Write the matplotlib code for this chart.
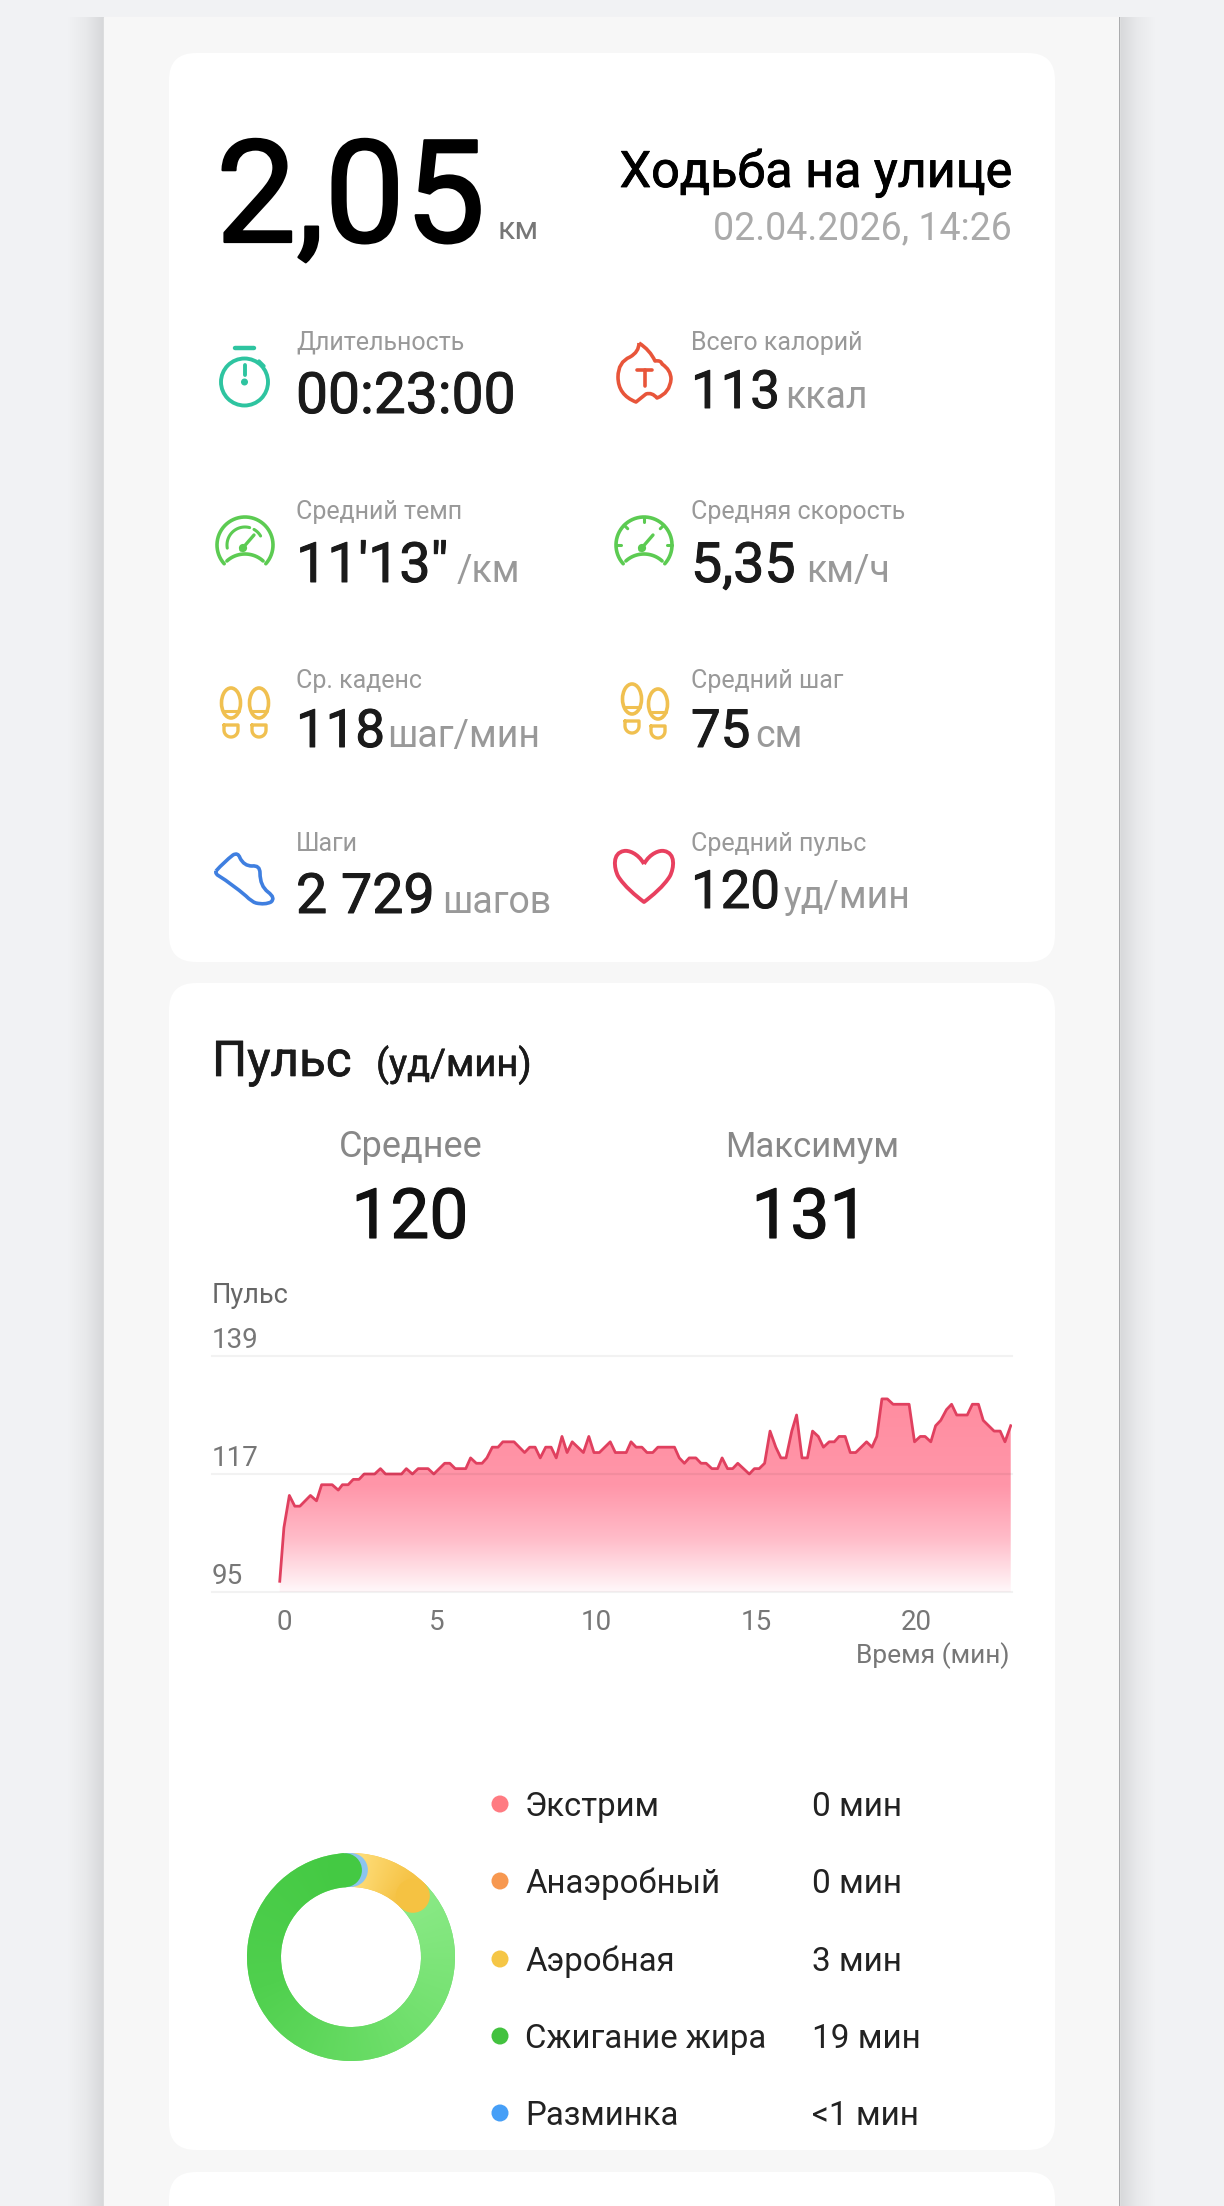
import numpy as np
import matplotlib
matplotlib.use('Agg')
import matplotlib.pyplot as plt
import matplotlib.patheffects as pe
from matplotlib.colors import LinearSegmentedColormap
from matplotlib.patches import Circle, Ellipse, FancyBboxPatch, PathPatch
from matplotlib.path import Path
from matplotlib.transforms import ScaledTranslation

plt.rcParams['font.family'] = ['Roboto', 'DejaVu Sans']

# heart rate curve
hr_minutes = [0.09, 0.22, 0.39, 0.56, 0.72, 1.05, 1.24, 1.40, 1.73, 1.92, 2.05, 2.23, 2.39, 2.57, 2.73, 3.06,
              3.24, 3.40, 3.90, 4.05, 4.24, 4.42, 4.73, 4.91, 5.25, 5.41, 5.58, 5.91, 6.06, 6.24, 6.42, 6.57,
              6.74, 6.92, 7.07, 7.42, 7.75, 7.91, 8.08, 8.24, 8.41, 8.58, 8.74, 8.92, 9.08, 9.24, 9.59, 9.76,
              9.92, 10.09, 10.43, 10.59, 10.93, 11.08, 11.24, 11.42, 11.58, 11.76, 11.92, 12.44, 12.59, 12.75,
              12.90, 13.11, 13.27, 13.43, 13.61, 13.79, 13.93, 14.10, 14.26, 14.42, 14.78, 14.94, 15.09, 15.26,
              15.43, 15.61, 15.77, 15.93, 16.11, 16.26, 16.43, 16.60, 16.76, 16.94, 17.10, 17.28, 17.44, 17.59,
              17.78, 17.94, 18.11, 18.45, 18.62, 18.77, 18.93, 19.10, 19.28, 19.78, 19.95, 20.13, 20.28, 20.46,
              20.61, 20.77, 20.95, 21.11, 21.27, 21.60, 21.76, 21.95, 22.10, 22.44, 22.63, 22.78, 22.96]
hr_values = [97, 107, 113, 111, 111, 113, 112, 115, 115, 114, 115, 115, 116, 116, 117, 117,
             118, 117, 117, 118, 117, 118, 118, 117, 119, 119, 118, 118, 120, 119, 119, 120,
             122, 122, 123, 123, 121, 122, 122, 120, 122, 122, 120, 124, 121, 123, 121, 124,
             121, 121, 123, 121, 121, 123, 122, 122, 121, 121, 122, 122, 120, 119,
             120, 120, 119, 119, 118, 118, 120, 118, 118, 119, 117, 118, 118, 119,
             125, 122, 120, 120, 125, 128, 120, 120, 125, 124, 122, 123, 123, 124,
             124, 121, 121, 123, 122, 124, 131, 131, 130, 130, 123, 124, 124, 123,
             126, 127, 129, 130, 128, 128, 130, 130, 127, 125, 125, 123, 126]
x_ticks = [0, 5, 10, 15, 20]
y_ticks = [95, 117, 139]

# heart rate zones
zone_names = ['Экстрим', 'Анаэробный', 'Аэробная', 'Сжигание жира', 'Разминка']
zone_labels = ['0 мин', '0 мин', '3 мин', '19 мин', '<1 мин']
zone_colors = ['#FF7B82', '#F79850', '#F5C646', '#43C23F', '#469FF7']
ring_minutes = [0.25, 2.9, 19.85]   # warm up, aerobic, fat burn as the ring shows them

# summary tiles: label, value, unit
tile_labels = ['Длительность', 'Всего калорий', 'Средний темп', 'Средняя скорость',
               'Ср. каденс', 'Средний шаг', 'Шаги', 'Средний пульс']
tile_values = ['00:23:00', '113', "11'13\"", '5,35', '118', '75', '2 729', '120']
tile_units = ['', 'ккал', '/км', 'км/ч', 'шаг/мин', 'см', 'шагов', 'уд/мин']

W, H = 1224, 2206
ICON_Z = 3


def px_rect(x0, y0, x1, y1):
    return [x0 / W, 1 - y1 / H, (x1 - x0) / W, (y1 - y0) / H]


def arc(cx, cy, r, a0, a1):
    a = np.radians(np.linspace(a0, a1, 50))
    return np.column_stack([cx + r * np.cos(a), cy - r * np.sin(a)])


def stroke(ax, pts, color, lw=2.4):
    pts = np.asarray(pts)
    ax.plot(pts[:, 0], pts[:, 1], color=color, lw=lw, solid_capstyle='round', solid_joinstyle='round', zorder=ICON_Z)


def outline(ax, verts, codes, color, lw=2.4):
    ax.add_patch(PathPatch(Path(verts, codes), fc='none', ec=color, lw=lw, joinstyle='round', zorder=ICON_Z))


def quad_outline(ax, verts, color, lw=2.4):
    # start point, then control/end pairs
    outline(ax, verts, [Path.MOVETO] + [Path.CURVE3] * (len(verts) - 1), color, lw)


def label(ax, x, y, s, size, color, bold=0.0, **kw):
    t = ax.text(x, y, s, fontsize=size, color=color, va='baseline', **kw)
    if bold:
        t.set_path_effects([pe.withStroke(linewidth=bold, foreground=color)])
    return t


def gauge(ax, cx, cy, color, sport):
    stroke(ax, arc(cx, cy, 28, -42, 222), color, 2.6)
    stroke(ax, arc(cx, cy + 36, 27, 48, 132), color, 2.6)
    stroke(ax, [[cx - 4, cy + 5], [cx + 9, cy - 10]], color, 2.4)
    ax.add_patch(Circle((cx - 2, cy + 3), 3.4, color=color, zorder=ICON_Z))
    if sport:
        stroke(ax, arc(cx, cy, 18, 30, 60), color, 2.2)
        stroke(ax, arc(cx, cy, 18, 75, 190), color, 2.2)
    else:
        for ang in [0, 45, 90, 135, 180]:
            p = arc(cx, cy, 28, ang, ang)[0]
            q = arc(cx, cy, 23, ang, ang)[0]
            stroke(ax, [p, q], color, 2.2)


def foot(ax, cx, top, color):
    ax.add_patch(Ellipse((cx, top + 15), 19, 30, fc='none', ec=color, lw=2.6, zorder=ICON_Z))
    stroke(ax, [[cx - 8, top + 23], [cx + 8, top + 23]], color, 2.2)
    heel = np.vstack([[[cx - 7, top + 37]], arc(cx, top + 42, 7, 180, 360), [[cx + 7, top + 37]], [[cx - 7, top + 37]]])
    stroke(ax, heel, color, 2.4)


def draw_icons(ax):
    teal = '#2EC4A0'
    ax.add_patch(Circle((244.5, 382), 23.5, fc='none', ec=teal, lw=2.8, zorder=ICON_Z))
    stroke(ax, [[235, 348], [254, 348]], teal, 3.2)
    stroke(ax, [[259, 361], [264, 366]], teal, 2.4)
    stroke(ax, [[244.5, 365], [244.5, 375]], teal, 2.8)
    ax.add_patch(Circle((244.5, 382), 2.8, color=teal, zorder=ICON_Z))

    red = '#E8553A'
    quad_outline(ax, [(639, 343), (650, 350), (655, 361), (661, 360), (662, 364), (671, 370), (671, 379),
                      (670, 393), (657, 398), (652, 392), (646, 394), (641, 398), (636, 402), (618, 395),
                      (618, 377), (618, 362), (630, 357), (639, 352), (639, 343)], red, 2.6)
    stroke(ax, [[637, 370], [652, 370]], red, 2.6)
    stroke(ax, [[644.5, 370], [644.5, 386]], red, 2.6)

    gauge(ax, 245, 545, '#5CCB52', True)
    gauge(ax, 644, 545, '#5CCB52', False)

    yellow = '#F0C050'
    foot(ax, 231, 688, yellow)
    foot(ax, 259, 688, yellow)
    foot(ax, 632, 684, yellow)
    foot(ax, 658, 689, yellow)

    blue = '#3F7FE0'
    quad_outline(ax, [(216, 871), (224, 862), (233, 855), (238, 852), (240, 858), (244, 866), (252, 866),
                      (260, 865), (260, 873), (260, 886), (268, 892), (276, 898), (271, 902), (265, 905),
                      (256, 903), (252, 902), (246, 896), (232, 884), (219, 876), (215, 874), (216, 871)], blue, 2.6)

    crimson = '#E8405F'
    outline(ax, [(644, 864), (638, 853), (628, 850), (624, 851), (612, 853), (614, 868), (618, 876),
                 (624, 886), (636, 896), (644, 902), (652, 896), (664, 886), (670, 876),
                 (674, 868), (676, 853), (664, 851), (660, 850), (650, 853), (644, 864)],
            [Path.MOVETO] + [Path.CURVE4] * 18, crimson, 2.8)


def draw_page(ax):
    ax.add_patch(plt.Rectangle((0, 0), W, H, color='#F1F2F4', zorder=0))
    shade = LinearSegmentedColormap.from_list('shade', ['#F1F2F4', '#E8E9EB', '#D6D7D9'])
    ramp = np.linspace(0, 1, 64).reshape(1, -1)
    ax.imshow(ramp, extent=[68, 104, H, 17], cmap=shade, aspect='auto', zorder=1)
    ax.imshow(ramp[:, ::-1], extent=[1119, 1155, H, 17], cmap=shade, aspect='auto', zorder=1)
    ax.add_patch(plt.Rectangle((104, 17), 1015, H, color='#F7F7F7', zorder=1))
    ax.add_patch(plt.Rectangle((1118.5, 17), 1.5, H, color='#ABACAE', lw=0, zorder=1))
    for y0, y1 in [(53, 962), (983, 2150), (2172, 2260)]:
        ax.add_patch(FancyBboxPatch((169, y0), 886, y1 - y0, boxstyle='round,pad=0,rounding_size=27',
                                    fc='white', ec='none', zorder=2))
    ax.set_xlim(0, W)
    ax.set_ylim(H, 0)


def draw_texts(ax):
    label(ax, 216, 242, '2,05', 103, 'black', bold=1.6)
    label(ax, 497, 239, 'км', 23, '#777777')
    label(ax, 1012, 187, 'Ходьба на улице', 36.2, 'black', bold=0.6, ha='right')
    label(ax, 1012, 239, '02.04.2026, 14:26', 27, '#AAAAAA', ha='right')

    col_x = [296, 691]
    label_y = [350, 519, 688, 851]
    value_y = [[413, 408], [582, 582], [747, 747], [913, 908]]
    unit_x = [[0, 785], [457, 806], [387, 755], [442, 784]]
    value_size = [41, 38, 40, 40, 38, 38, 40, 38]
    for i in range(len(tile_labels)):
        row, col = i // 2, i % 2
        label(ax, col_x[col], label_y[row], tile_labels[i], 18, '#999999')
        label(ax, col_x[col], value_y[row][col], tile_values[i], value_size[i], '#1A1A1A', bold=0.7)
        if tile_units[i]:
            label(ax, unit_x[row][col], value_y[row][col], tile_units[i], 27, '#999999')

    label(ax, 212, 1076, 'Пульс', 35.5, '#1A1A1A', bold=0.5)
    label(ax, 376, 1076, '(уд/мин)', 27.5, '#1A1A1A', bold=0.4)
    label(ax, 411, 1157, 'Среднее', 26, '#888888', ha='center')
    label(ax, 812, 1157, 'Максимум', 25, '#888888', ha='center')
    label(ax, 410, 1238, '120', 50, '#111111', bold=0.8, ha='center')
    label(ax, 810, 1238, '131', 50, '#111111', bold=0.8, ha='center')

    # zone legend
    rows_y = [1804, 1881, 1959, 2036, 2113]
    ax.scatter([500] * 5, rows_y, s=150, c=zone_colors, linewidths=0, zorder=3)
    for i in range(5):
        label(ax, 525, rows_y[i] + 12, zone_names[i], 23.7, '#222222')
        label(ax, 812, rows_y[i] + 12, zone_labels[i], 24, '#222222')


def draw_chart(fig):
    ax = fig.add_axes(px_rect(212, 1356, 1012, 1592))
    ax.patch.set_alpha(0)
    ax.set_xlim(-2.03, 23)
    ax.set_ylim(95, 139)
    for s in ax.spines.values():
        s.set_visible(False)

    # vertical gradient clipped by the area under the curve
    fill = ax.fill_between(hr_minutes, hr_values, 95, color='none', lw=0)
    grad_cmap = LinearSegmentedColormap.from_list('pulse', [(0, '#FFF8FA'), (0.28, '#FFBBC8'), (0.55, '#FF96A9'),
                                                            (1, '#FF8DA0')])
    grad = ax.imshow(np.linspace(0, 1, 256).reshape(-1, 1), extent=[-2.03, 23, 95, 131], origin='lower',
                     cmap=grad_cmap, aspect='auto', zorder=1)
    grad.set_clip_path(fill.get_paths()[0], transform=ax.transData)
    ax.set_xlim(-2.03, 23)
    ax.set_ylim(95, 139)

    ax.plot(hr_minutes, hr_values, color='#E0405F', lw=2.0, zorder=3, solid_joinstyle='round')
    for v in y_ticks:
        ax.axhline(v, color='black', alpha=0.05, lw=1.5, zorder=4, clip_on=False)
        ax.text(0, v + 1.4, str(v), transform=ax.get_yaxis_transform(), fontsize=20, color='#777777', va='baseline')

    ax.set_yticks([])
    ax.set_xticks(x_ticks)
    ax.tick_params(axis='x', length=0, pad=12, labelsize=20, labelcolor='#777777')
    # the first label sits a little right of its tick in the app
    first = ax.get_xticklabels()[0]
    first.set_transform(first.get_transform() + ScaledTranslation(7 / 100, 0, fig.dpi_scale_trans))
    ax.text(0, 1.225, 'Пульс', transform=ax.transAxes, fontsize=19.5, color='#666666', va='baseline')
    ax.text(0.997, -0.30, 'Время (мин)', transform=ax.transAxes, fontsize=19, color='#777777', ha='right', va='baseline')


def draw_ring(fig):
    ax = fig.add_axes(px_rect(351 - 110, 1957 - 110, 351 + 110, 1957 + 110))
    ax.patch.set_alpha(0)
    wedges, _ = ax.pie(ring_minutes, startangle=94, counterclock=False, radius=104,
                       colors=['#8CC4EE', '#F5C646', '#6FDF6B'], wedgeprops=dict(width=34, lw=0))
    ax.set_xlim(-110, 110)
    ax.set_ylim(-110, 110)
    ax.set_aspect('equal')

    # conic gradient for the two big segments
    gx, gy = np.meshgrid(np.linspace(-110, 110, 500), np.linspace(-110, 110, 500))
    angle = np.degrees(np.arctan2(gx, gy)) % 360
    green = LinearSegmentedColormap.from_list('g', ['#8BEA87', '#6FDF6B', '#50D04E', '#44C943'])
    yellow = LinearSegmentedColormap.from_list('y', [(0, '#FFE07F'), (0.8, '#F6C448'), (1, '#F5C242')])
    im = ax.imshow(angle, extent=[-110, 110, -110, 110], origin='lower', cmap=green, vmin=42, vmax=356, zorder=2)
    im.set_clip_path(wedges[2])
    yellow_ang = np.where(angle > 180, 0, angle)
    im2 = ax.imshow(yellow_ang, extent=[-110, 110, -110, 110], origin='lower', cmap=yellow, vmin=0, vmax=45, zorder=3)
    im2.set_clip_path(wedges[1])

    # round caps at the segment ends
    per_min = 360 / sum(ring_minutes)
    yellow_end = np.radians(-4 + per_min * (ring_minutes[0] + ring_minutes[1]))
    blue_end = np.radians(-4 + per_min * ring_minutes[0])
    green_end = np.radians(-4)
    ax.add_patch(Circle((87 * np.sin(yellow_end), 87 * np.cos(yellow_end)), 17, color='#F5C242', lw=0, zorder=4))
    ax.add_patch(Circle((87 * np.sin(blue_end), 87 * np.cos(blue_end)), 17, color='#8CC4EE', lw=0, zorder=5))
    ax.add_patch(Circle((87 * np.sin(green_end), 87 * np.cos(green_end)), 17, color='#44C943', lw=0, zorder=6))
    ax.set_xlim(-110, 110)
    ax.set_ylim(-110, 110)


def main():
    fig = plt.figure(figsize=(W / 100, H / 100), dpi=100)
    page = fig.add_axes([0, 0, 1, 1])
    draw_page(page)
    page.set_axis_off()
    draw_icons(page)
    draw_texts(page)
    page.set_xlim(0, W)
    page.set_ylim(H, 0)

    draw_chart(fig)
    draw_ring(fig)

    fig.savefig('out.png', dpi=100)


if __name__ == '__main__':
    main()
